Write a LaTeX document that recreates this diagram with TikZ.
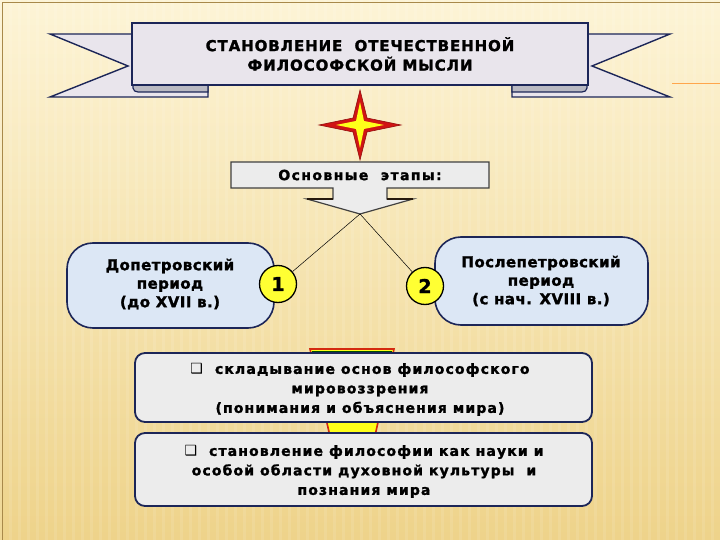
\documentclass[tikz,border=0pt]{standalone}
\usepackage{fontspec}
\setmainfont{DejaVu Sans}
\newfontfamily\bannerfont{DejaVu Sans}[LetterSpace=6, BoldFeatures={FakeBold=1.6}]
\newfontfamily\bodyfont{DejaVu Sans}[LetterSpace=3, BoldFeatures={FakeBold=1.6}]
\newfontfamily\stagefont{DejaVu Sans}[LetterSpace=10, BoldFeatures={FakeBold=1.6}]
\newfontfamily\infofont{DejaVu Sans}[LetterSpace=8, BoldFeatures={FakeBold=1.6}]
\newfontfamily\symfont{DejaVu Sans}
\definecolor{bgtop}{HTML}{FDF4D6}
\definecolor{bgbot}{HTML}{EED38A}
\definecolor{navy}{HTML}{1C2658}
\definecolor{ribfill}{HTML}{E9E5EC}
\definecolor{foldgray}{HTML}{B9B9C2}
\definecolor{starred}{HTML}{D01414}
\definecolor{staryel}{HTML}{FFFF1A}
\definecolor{boxgray}{HTML}{ECECEC}
\definecolor{periodblue}{HTML}{DCE7F5}
\definecolor{circyel}{HTML}{FFFF33}
\definecolor{funred}{HTML}{D42A10}
\definecolor{framec}{HTML}{A8894A}
\tikzset{
  ribbon/.style={draw=navy, line width=1.4pt, fill=ribfill, line join=miter},
  period/.style={draw=navy, line width=1.6pt, fill=periodblue, rounded corners=26pt},
  ptext/.style={font=\bodyfont\bfseries\fontsize{15}{18.5}\selectfont, align=center, text=black},
  numc/.style={circle, draw=black, line width=1.3pt, fill=circyel, minimum size=37pt, inner sep=0pt, font=\bodyfont\bfseries\fontsize{19}{19}\selectfont},
  infobox/.style={draw=navy, line width=1.8pt, fill=boxgray, rounded corners=10pt},
  itext/.style={font=\infofont\bfseries\fontsize{14}{19.5}\selectfont, align=center, text=black},
  thinline/.style={draw=black, line width=0.5pt}
}
\newcommand{\sqb}{{\symfont\mdseries\fontsize{14}{14}\selectfont ❑}}
\begin{document}
\begin{tikzpicture}[x=1pt, y=-1pt]
\useasboundingbox (0,0) rectangle (720,540);
% background
\shade[top color=bgtop, bottom color=bgbot] (0,0) rectangle (720,540);
\foreach \i in {0,9,...,720} {\fill[white, opacity=0.10] (\i,0) rectangle (\i+3,540);}
\draw[framec, line width=0.8pt] (2.5,545) -- (2.5,2.5) -- (725,2.5);
\draw[orange!70, line width=0.5pt] (672,83) -- (720,83);
% ribbon tails
\draw[ribbon] (140,34) -- (50,34) -- (128,66) -- (50,97) -- (208,97) -- (208,84) -- (140,84) -- cycle;
\draw[ribbon] (580,34) -- (670,34) -- (592,66) -- (670,97) -- (512,97) -- (512,84) -- (580,84) -- cycle;
% folds
\draw[navy, line width=1.2pt, fill=foldgray] (133,84) -- (208,84) -- (208,92) -- (138,92) to[out=180,in=-90] (133,88) -- cycle;
\draw[navy, line width=1.2pt, fill=foldgray] (587,84) -- (512,84) -- (512,92) -- (582,92) to[out=0,in=-90] (587,88) -- cycle;
% main banner
\node[ribbon, draw, minimum width=456pt, minimum height=62pt, inner sep=0pt,
  font=\bannerfont\bfseries\fontsize{15}{19.5}\selectfont, align=center] (banner) at (360,54)
  {СТАНОВЛЕНИЕ \ ОТЕЧЕСТВЕННОЙ\\ФИЛОСОФСКОЙ МЫСЛИ};
% star
\coordinate (sc) at (360,125);
\fill[starred, draw=starred!70!black, line width=0.6pt]
  (360,90) -- (367,118) -- (401,125) -- (367,132) -- (360,160) -- (353,132) -- (319,125) -- (353,118) -- cycle;
\fill[staryel] (360,102) -- (364,121) -- (384,125) -- (364,129) -- (360,148) -- (356,129) -- (336,125) -- (356,121) -- cycle;
% stages box with callout
\draw[draw=black!75, line width=1.2pt, fill=boxgray]
  (231,162) -- (489,162) -- (489,188) -- (387,188) -- (387,199) -- (413,199) -- (360,214)
  -- (307,199) -- (333,199) -- (333,188) -- (231,188) -- cycle;
\draw[black!80!brown, line width=2pt] (307,199) -- (333,199);
\draw[black!80!brown, line width=2pt] (387,199) -- (413,199);
\node[font=\stagefont\bfseries\fontsize{14}{16}\selectfont] (stages) at (360,175) {Основные \ этапы:};
\coordinate (tip) at (360,214);
% funnel
\draw[funred, line width=1.6pt, fill=staryel] (310,349) -- (394,349) -- (373,445) -- (332,445) -- cycle;
\draw[black!70!green, line width=1pt] (312,351.5) -- (392,351.5);
% period boxes
\draw[period] (67,243) rectangle (274,328);
\node[ptext] (pre) at (170,284) {Допетровский\\период\\(до XVII в.)};
\draw[period] (435,237) rectangle (648,325);
\node[ptext] (post) at (541,281) {Послепетровский\\период\\(с нач. XVIII в.)};
% numbers
\node[numc] (n1) at (278,284) {1};
\node[numc] (n2) at (425,286) {2};
\draw[thinline] (tip) -- (n1);
\draw[thinline] (tip) -- (n2);
% info boxes
\draw[infobox] (135,353) rectangle (592,422);
\node[itext] (b1) at (360,389.5) {\sqb\ \ складывание основ философского\\мировоззрения\\(понимания и объяснения мира)};
\draw[infobox] (135,433) rectangle (592,506);
\node[itext] (b2) at (364,471.5) {\sqb\ \ становление философии как науки и\\особой области духовной культуры \ и\\познания мира};
\end{tikzpicture}
\end{document}
